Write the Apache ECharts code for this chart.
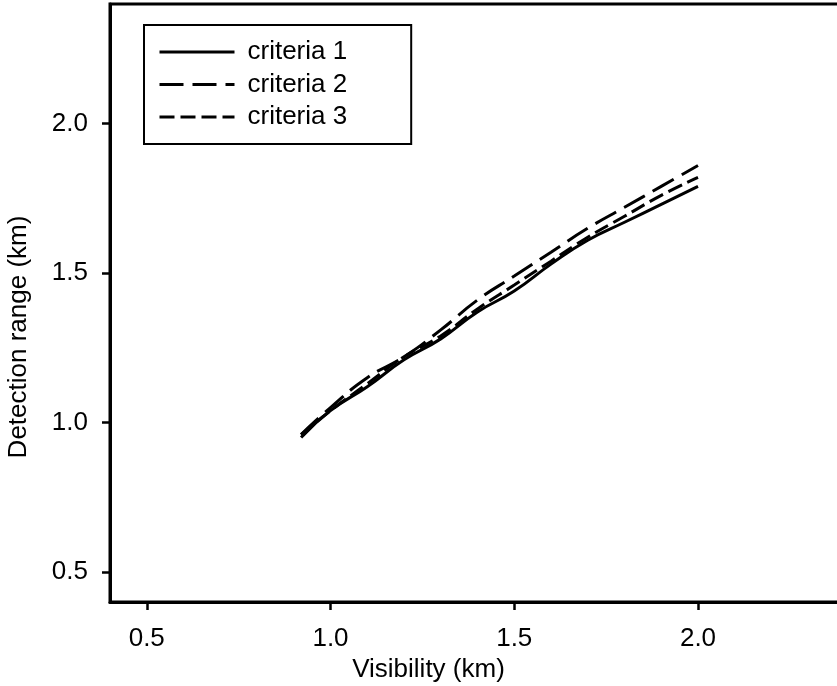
<!DOCTYPE html>
<html>
<head>
<meta charset="utf-8">
<script src="https://cdn.jsdelivr.net/npm/echarts@6/dist/echarts.min.js"></script>
<style>
  html, body { margin: 0; padding: 0; background: #fff; }
  #chart { width: 837px; height: 686px; }
</style>
</head>
<body>
<div id="chart"></div>
<script>
// visibility (km) sampled along the curves
const visibility = [0.92, 1.0, 1.1, 1.2, 1.3, 1.4, 1.5, 1.6, 1.7, 1.8, 1.9, 2.0];
// detection range (km)
const criteria1 = [0.95, 1.04, 1.12, 1.21, 1.28, 1.37, 1.44, 1.53, 1.61, 1.67, 1.73, 1.79];
const criteria2 = [0.96, 1.05, 1.15, 1.22, 1.31, 1.41, 1.49, 1.57, 1.65, 1.72, 1.79, 1.86];
const criteria3 = [0.96, 1.04, 1.13, 1.22, 1.29, 1.38, 1.46, 1.54, 1.62, 1.69, 1.76, 1.82];
const tickValues = [0.5, 1.0, 1.5, 2.0];

const font = "Liberation Sans, Arial, sans-serif";
const pairs = (ys) => visibility.map((x, i) => [x, ys[i]]);

const chart = echarts.init(document.getElementById("chart"));

const axisCommon = {
  type: "value",
  min: 0.4,
  max: 2.4,
  nameLocation: "middle",
  axisLine: { show: true, lineStyle: { color: "#000", width: 3 } },
  axisTick: {
    show: true,
    inside: false,
    length: 8,
    customValues: tickValues,
    lineStyle: { color: "#000", width: 2.5 },
  },
  axisLabel: {
    customValues: tickValues,
    fontFamily: font,
    fontSize: 26,
    color: "#000",
    formatter: (v) => v.toFixed(1),
  },
  splitLine: { show: false },
};

const lineSeries = (name, data, type) => ({
  name,
  type: "line",
  data: pairs(data),
  symbol: "none",
  smooth: true,
  color: "#000",
  lineStyle: { color: "#000", width: 3, type },
});

chart.setOption({
  backgroundColor: "#fff",
  animation: false,
  grid: {
    left: 110,
    top: 4,
    width: 735,
    height: 598,
    outerBoundsMode: "none",
    containLabel: false,
    show: true,
    borderColor: "#000",
    borderWidth: 3,
  },
  legend: {
    orient: "vertical",
    left: 144,
    top: 25,
    padding: [14, 64, 14, 14],
    borderColor: "#000",
    borderWidth: 2,
    itemWidth: 75,
    itemHeight: 14,
    itemGap: 6.5,
    itemStyle: { opacity: 0 },
    lineStyle: { width: 3, color: "#000" },
    textStyle: { fontFamily: font, fontSize: 26, color: "#000", lineHeight: 26, padding: [0, 0, 0, 8] },
    data: ["criteria 1", "criteria 2", "criteria 3"],
  },
  xAxis: {
    ...axisCommon,
    name: "Visibility (km)",
    nameGap: 41,
    nameTextStyle: { fontFamily: font, fontSize: 26, color: "#000", padding: [0, 98, 0, 0] },
    axisLabel: { ...axisCommon.axisLabel, margin: 24 },
  },
  yAxis: {
    ...axisCommon,
    name: "Detection range (km)",
    nameGap: 78,
    nameTextStyle: { fontFamily: font, fontSize: 26, color: "#000", padding: [0, 68, 0, 0] },
    axisLabel: { ...axisCommon.axisLabel, margin: 22 },
  },
  series: [
    lineSeries("criteria 1", criteria1, "solid"),
    lineSeries("criteria 2", criteria2, [24, 9]),
    lineSeries("criteria 3", criteria3, [15, 6]),
  ],
});
</script>
</body>
</html>
